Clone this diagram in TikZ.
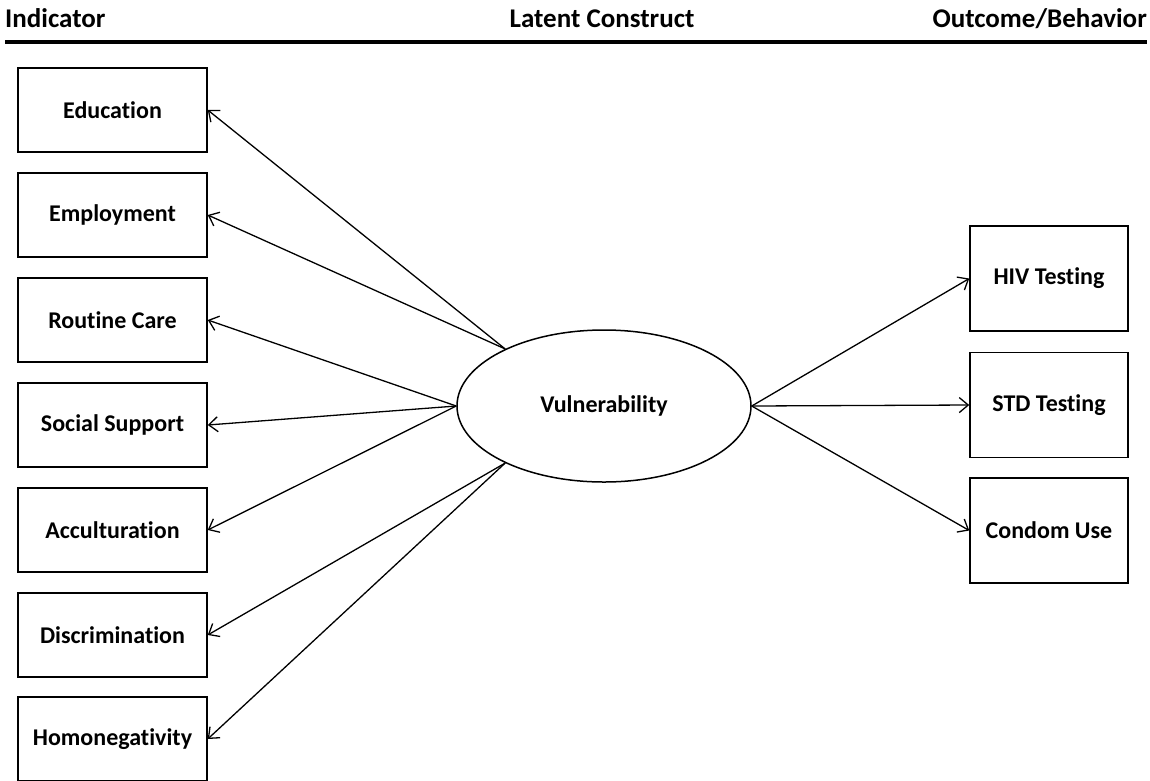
\documentclass[tikz,border=0pt]{standalone}
\usepackage{fontspec}
\setmainfont{Carlito}[Ligatures=NoCommon]
\usetikzlibrary{arrows.meta,shapes.geometric}
\tikzset{
  ind/.style={draw, line width=1.5pt, minimum width=189pt, minimum height=84pt, inner sep=0pt, font=\fontsize{24}{28}\selectfont\bfseries},
  outc/.style={draw, line width=1.5pt, minimum width=158pt, minimum height=105pt, inner sep=0pt, font=\fontsize{24}{28}\selectfont\bfseries},
  lat/.style={draw, ellipse, line width=1.5pt, minimum width=294pt, minimum height=152pt, inner sep=0pt, font=\fontsize{24}{28}\selectfont\bfseries},
  hdr/.style={inner sep=0pt, font=\fontsize{27}{31}\selectfont\bfseries},
  link/.style={line width=1.3pt, -{Straight Barb[length=9pt,width=15pt,line width=1.3pt]}}
}
\begin{document}
\begin{tikzpicture}[x=1pt,y=-1pt]
\useasboundingbox (0,0) rectangle (1150,780);
% headers
\node[hdr, anchor=base west] (h1) at (5,27) {Indicator};
\node[hdr, anchor=base] (h2) at (602,27) {Latent Construct};
\node[hdr, anchor=base east] (h3) at (1147,27) {Outcome/Behavior};
\draw[line width=4pt] (5,42) -- (1147,42);
% indicator boxes
\node[ind] (edu) at (112.5,110) {Education};
\node[ind] (emp) at (112.5,215) {Employment};
\node[ind] (rc) at (112.5,320) {Routine Care};
\node[ind] (ss) at (112.5,425) {Social Support};
\node[ind] (acc) at (112.5,530) {Acculturation};
\node[ind] (dis) at (112.5,635) {Discrimination};
\node[ind] (hom) at (112.5,739) {Homonegativity};
% latent
\node[lat] (v) at (604,406) {Vulnerability};
% outcomes
\node[outc] (hiv) at (1049,278.5) {HIV Testing};
\node[outc] (std) at (1049,405) {STD Testing};
\node[outc] (cu) at (1049,530.5) {Condom Use};
% links
\draw[link] (v.150) -- (edu.east);
\draw[link] (v.150) -- (emp.east);
\draw[link] (v.west) -- (rc.east);
\draw[link] (v.west) -- (ss.east);
\draw[link] (v.west) -- (acc.east);
\draw[link] (v.210) -- (dis.east);
\draw[link] (v.210) -- (hom.east);
\draw[link] (v.east) -- (hiv.west);
\draw[link] (v.east) -- (std.west);
\draw[link] (v.east) -- (cu.west);
\end{tikzpicture}
\end{document}
